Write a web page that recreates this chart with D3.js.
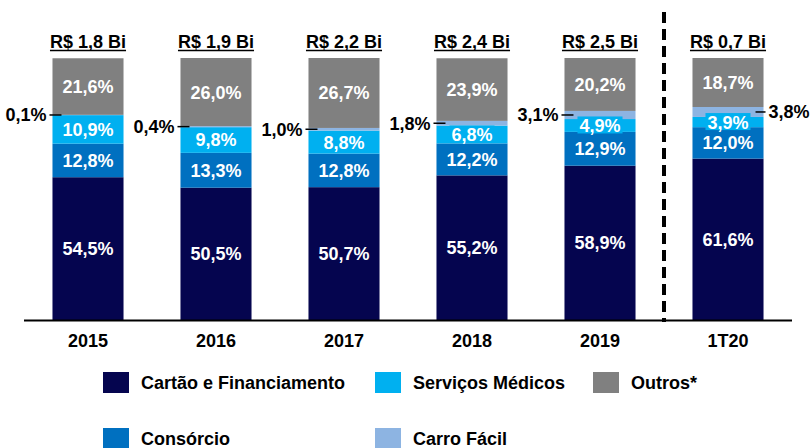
<!DOCTYPE html>
<html><head><meta charset="utf-8">
<script src="https://cdn.jsdelivr.net/npm/d3@7"></script>
<style>body{margin:0;background:#fff}svg{display:block;font-family:"Liberation Sans",Arial,sans-serif;font-weight:bold}</style>
</head><body>
<svg id="c" width="812" height="448"></svg>
<script>
const categories = ["2015","2016","2017","2018","2019","1T20"];
const totals = ["R$ 1,8 Bi","R$ 1,9 Bi","R$ 2,2 Bi","R$ 2,4 Bi","R$ 2,5 Bi","R$ 0,7 Bi"];
const seriesNames = ["Cartão e Financiamento","Consórcio","Serviços Médicos","Carro Fácil","Outros*"];
const cartao   = [54.5, 50.5, 50.7, 55.2, 58.9, 61.6];
const consorcio= [12.8, 13.3, 12.8, 12.2, 12.9, 12.0];
const servicos = [10.9,  9.8,  8.8,  6.8,  4.9,  3.9];
const carro    = [ 0.1,  0.4,  1.0,  1.8,  3.1,  3.8];
const outros   = [21.6, 26.0, 26.7, 23.9, 20.2, 18.7];
const colors = ["#05054f","#0070c0","#00b0f0","#8db4e2","#808080"];

const fmt = v => v.toFixed(1).replace(".", ",") + "%";
const svg = d3.select("#c");
const x = d3.scaleBand().domain(categories).range([24, 792]).paddingInner(0.445).paddingOuter(0.2225);
const y = d3.scaleLinear().domain([0, 100]).range([320, 58]);

const rows = categories.map((c, i) => ({cat: c, vals: [cartao[i], consorcio[i], servicos[i], carro[i], outros[i]]}));
const keys = [0,1,2,3,4];
const stack = d3.stack().keys(keys).value((d, k) => d.vals[k]);
const layers = stack(rows);

const g = svg.append("g");
layers.forEach((layer, k) => {
  g.selectAll(null).data(layer).enter().append("rect")
    .attr("x", d => x(d.data.cat))
    .attr("width", x.bandwidth())
    .attr("y", d => y(d[1]))
    .attr("height", d => y(d[0]) - y(d[1]))
    .attr("fill", colors[k]);
});

// inside labels (all except Carro Fácil)
layers.forEach((layer, k) => {
  if (k === 3) return;
  layer.forEach(d => {
    const cx = x(d.data.cat) + x.bandwidth() / 2;
    const cy = (y(d[0]) + y(d[1])) / 2;
    const grp = g.append("g");
    const t = grp.append("text").attr("x", cx).attr("y", cy).attr("dy", "0.36em")
      .attr("text-anchor", "middle").attr("fill", "#fff").style("font-size", "18px")
      .text(fmt(d.data.vals[k]));
    if (k === 2) {
      const w = t.node().getComputedTextLength();
      grp.insert("rect", "text").attr("x", cx - w / 2 - 2).attr("width", w + 4)
        .attr("y", cy - 9).attr("height", 17).attr("fill", colors[k]);
    }
  });
});

// Carro Fácil outside labels
layers[3].forEach((d, i) => {
  const cy = (y(d[0]) + y(d[1])) / 2;
  const left = x(d.data.cat), right = left + x.bandwidth();
  const onRight = i === categories.length - 1;
  if (!onRight) {
    g.append("line").attr("x1", left - 3).attr("x2", left + 9).attr("y1", cy).attr("y2", cy)
      .attr("stroke", "#000").attr("stroke-width", 1.5);
    g.append("text").attr("x", left - 6).attr("y", cy).attr("dy", "0.36em").attr("text-anchor", "end")
      .attr("fill", "#000").style("font-size", "18px").text(fmt(d.data.vals[3]));
  } else {
    g.append("line").attr("x1", right - 8).attr("x2", right + 2).attr("y1", cy).attr("y2", cy)
      .attr("stroke", "#000").attr("stroke-width", 1.5);
    g.append("text").attr("x", right + 5).attr("y", cy).attr("dy", "0.36em").attr("text-anchor", "start")
      .attr("fill", "#000").style("font-size", "18px").text(fmt(d.data.vals[3]));
  }
});

// header totals with underline
categories.forEach((c, i) => {
  const cx = x(c) + x.bandwidth() / 2;
  const t = svg.append("text").attr("x", cx).attr("y", 48).attr("text-anchor", "middle")
    .attr("fill", "#000").style("font-size", "18px").text(totals[i]);
  const w = t.node().getComputedTextLength();
  svg.append("line").attr("x1", cx - w / 2).attr("x2", cx + w / 2).attr("y1", 50.5).attr("y2", 50.5)
    .attr("stroke", "#000").attr("stroke-width", 1.5);
});

// x axis
const ax = svg.append("g").attr("transform", "translate(0,320)")
  .call(d3.axisBottom(x).tickSize(0).tickPadding(14));
ax.select(".domain").attr("d", "M24,0.5H792").attr("stroke", "#000").attr("stroke-width", 2);
ax.selectAll("text").style("font-size", "18px").style("font-family", "Liberation Sans, Arial, sans-serif")
  .style("font-weight", "bold").attr("fill", "#000");

// dashed separator
const sepX = (x("2019") + x.bandwidth() + x("1T20")) / 2;
svg.append("line").attr("x1", sepX).attr("x2", sepX).attr("y1", 12).attr("y2", 322)
  .attr("stroke", "#000").attr("stroke-width", 4).attr("stroke-dasharray", "11,6");

// legend
const legendPos = [[103,372],[103,428],[375,372],[375,428],[593,372]];
seriesNames.forEach((n, k) => {
  const [lx, ly] = legendPos[k];
  svg.append("rect").attr("x", lx).attr("y", ly).attr("width", 26).attr("height", 21).attr("fill", colors[k]);
  svg.append("text").attr("x", lx + 38).attr("y", ly + 10.5).attr("dy", "0.36em")
    .attr("fill", "#000").style("font-size", "18px").text(n);
});
</script>
</body></html>
